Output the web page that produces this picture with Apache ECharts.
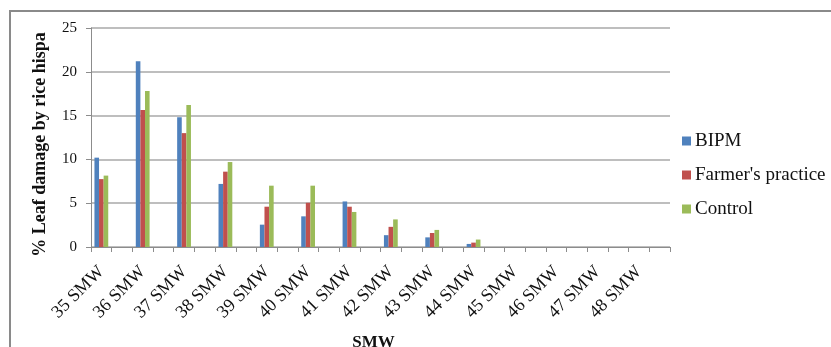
<!DOCTYPE html>
<html>
<head>
<meta charset="utf-8">
<script src="https://cdn.jsdelivr.net/npm/echarts@6/dist/echarts.min.js"></script>
<style>
html,body{margin:0;padding:0;background:#fff;}
#c{width:831px;height:347px;}
</style>
</head>
<body>
<div id="c"></div>
<script>
var categories = ['35 SMW','36 SMW','37 SMW','38 SMW','39 SMW','40 SMW','41 SMW','42 SMW','43 SMW','44 SMW','45 SMW','46 SMW','47 SMW','48 SMW'];
var bipm     = [10.2, 21.2, 14.8, 7.2, 2.55, 3.5, 5.2, 1.35, 1.1, 0.35, 0, 0, 0, 0];
var farmers  = [7.75, 15.65, 13.0, 8.6, 4.6, 5.05, 4.6, 2.3, 1.6, 0.5, 0, 0, 0, 0];
var control  = [8.15, 17.8, 16.2, 9.7, 7.0, 7.0, 4.0, 3.15, 1.95, 0.85, 0, 0, 0, 0];
var yTicks = [0, 5, 10, 15, 20, 25];

// Excel source has a blank category after each week
function spread(arr, blank) {
  var out = [];
  arr.forEach(function (v) { out.push(v); out.push(blank); });
  return out;
}
var axisCats = spread(categories, '');

var serif = "'Liberation Serif','Times New Roman',serif";
var chart = echarts.init(document.getElementById('c'), null, {renderer: 'canvas'});
function bar(name, data, color) {
  return {
    name: name, type: 'bar', data: spread(data, null),
    barWidth: 4.6, barGap: '0%',
    itemStyle: {color: color}
  };
}
chart.setOption({
  animation: false,
  textStyle: {fontFamily: serif},
  graphic: [{
    type: 'rect', shape: {x: 10, y: 11, width: 900, height: 400},
    style: {fill: 'none', stroke: '#8a8a8a', lineWidth: 2}, silent: true
  }],
  grid: {left: 91, right: 161, top: 28, bottom: 100, containLabel: false, outerBoundsMode: 'none'},
  legend: {
    orient: 'vertical', left: 682, top: 131, padding: 0,
    itemWidth: 9, itemHeight: 9, itemGap: 14,
    icon: 'rect',
    textStyle: {fontFamily: serif, fontSize: 19, color: '#111', lineHeight: 20, padding: [0, 0, 0, -1]},
    data: ['BIPM', "Farmer's practice", 'Control']
  },
  xAxis: {
    type: 'category', data: axisCats,
    name: 'SMW', nameLocation: 'middle', nameGap: 87,
    nameTextStyle: {fontFamily: serif, fontSize: 17, fontWeight: 'bold', color: '#111', padding: [0, 14, 0, 0]},
    axisLine: {lineStyle: {color: '#8c8c8c', width: 1}},
    axisTick: {show: true, interval: 0, length: 5, lineStyle: {color: '#8c8c8c'}},
    axisLabel: {interval: 0, rotate: 45, margin: 22, fontFamily: serif, fontSize: 18, color: '#111'}
  },
  yAxis: {
    type: 'value', min: yTicks[0], max: yTicks[yTicks.length - 1], interval: 5,
    name: '% Leaf damage by rice hispa', nameLocation: 'middle', nameGap: 42,
    nameTextStyle: {fontFamily: serif, fontSize: 18, fontWeight: 'bold', color: '#111', padding: [0, 14, 0, 0]},
    axisLine: {show: true, lineStyle: {color: '#8c8c8c', width: 1}},
    axisTick: {show: true, length: 5, lineStyle: {color: '#8c8c8c'}},
    axisLabel: {margin: 14, fontFamily: serif, fontSize: 15, color: '#111'},
    splitLine: {lineStyle: {color: '#a8a8a8', width: 1.5}}
  },
  series: [
    bar('BIPM', bipm, '#4F81BD'),
    bar("Farmer's practice", farmers, '#C0504D'),
    bar('Control', control, '#9BBB59')
  ]
});
</script>
</body>
</html>
